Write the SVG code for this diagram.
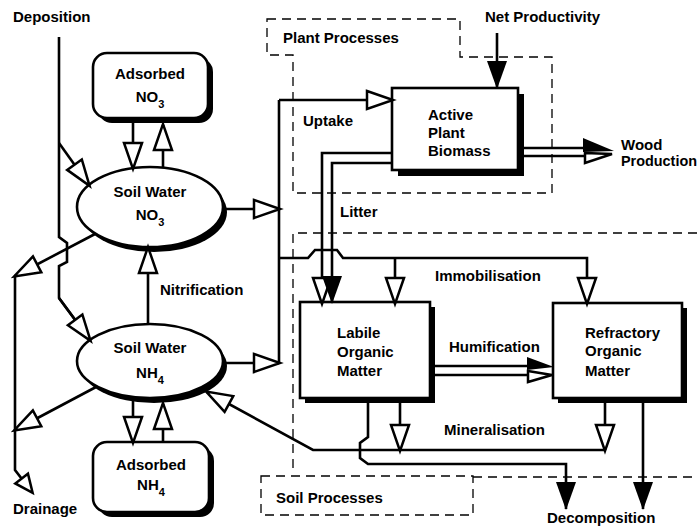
<svg xmlns="http://www.w3.org/2000/svg" width="699" height="526" viewBox="0 0 699 526">
<style>
text{font-family:"Liberation Sans",Arial,sans-serif;font-weight:bold;font-size:15px;fill:#000}
.c{text-anchor:middle}
.dash{fill:none;stroke:#000;stroke-width:1.3;stroke-dasharray:9 6}
.ln{fill:none;stroke:#000;stroke-width:2.6;stroke-linejoin:miter}
.node{fill:#fff;stroke:#000;stroke-width:2.6}
.sh{fill:#000}
.ao{marker-end:url(#ao)}
.af{marker-end:url(#af)}
.as{marker-end:url(#as)}
.sub{font-size:11px}
</style>
<defs>
<marker id="ao" markerUnits="userSpaceOnUse" viewBox="-4 -4 36 26" markerWidth="36" markerHeight="26" refX="25" refY="9" orient="auto" overflow="visible">
<path d="M0,0 L26,9 L0,18 Z" fill="#fff" stroke="#000" stroke-width="2.5"/>
</marker>
<marker id="as" markerUnits="userSpaceOnUse" viewBox="-4 -4 28 24" markerWidth="28" markerHeight="24" refX="17" refY="8" orient="auto" overflow="visible">
<path d="M0,0 L18,8 L0,16 Z" fill="#fff" stroke="#000" stroke-width="2.5"/>
</marker>
<marker id="af" markerUnits="userSpaceOnUse" viewBox="0 0 28 20" markerWidth="28" markerHeight="20" refX="27" refY="10" orient="auto" overflow="visible">
<path d="M0,0 L28,10 L0,20 Z" fill="#000"/>
</marker>
</defs>
<rect width="699" height="526" fill="#fff"/>

<g id="regions">
<path class="dash" d="M267,19 L460,19 L460,57 L552,57 L552,193 L293,193 L293,55 L267,55 Z"/>
<path class="dash" d="M697,233 L293,233 L293,468"/>
<rect class="dash" x="261" y="476" width="212" height="39"/>
<path class="dash" d="M473,477 L697,477"/>
</g>

<g id="labels">
<text x="13" y="22">Deposition</text>
<text x="485" y="22">Net Productivity</text>
<text x="283" y="43">Plant Processes</text>
<text x="303" y="126">Uptake</text>
<text x="621" y="150">Wood</text>
<text x="621" y="166" textLength="76" lengthAdjust="spacingAndGlyphs">Production</text>
<text x="340" y="217">Litter</text>
<text x="435" y="281">Immobilisation</text>
<text x="160" y="295">Nitrification</text>
<text x="449" y="352">Humification</text>
<text x="444" y="435">Mineralisation</text>
<text x="276" y="503">Soil Processes</text>
<text x="13" y="514">Drainage</text>
<text x="547" y="523">Decomposition</text>
</g>

<g id="adsorbed-no3">
<rect class="sh" x="98" y="58" width="115" height="65" rx="14"/>
<rect class="node" x="93" y="53" width="115" height="65" rx="14"/>
<text class="c" x="150" y="79">Adsorbed</text>
<text class="c" x="150" y="102">NO<tspan class="sub" dy="6">3</tspan></text>
</g>

<g id="soil-water-no3">
<ellipse class="sh" cx="154" cy="212" rx="73" ry="40"/>
<ellipse class="node" cx="150" cy="207" rx="73" ry="40"/>
<text class="c" x="150" y="197">Soil Water</text>
<text class="c" x="150" y="220">NO<tspan class="sub" dy="6">3</tspan></text>
</g>

<g id="soil-water-nh4">
<ellipse class="sh" cx="154" cy="366" rx="73" ry="37"/>
<ellipse class="node" cx="150" cy="361" rx="73" ry="37"/>
<text class="c" x="150" y="353">Soil Water</text>
<text class="c" x="150" y="378">NH<tspan class="sub" dy="6">4</tspan></text>
</g>

<g id="adsorbed-nh4">
<rect class="sh" x="98" y="447" width="116" height="70" rx="14"/>
<rect class="node" x="93" y="442" width="116" height="70" rx="14"/>
<text class="c" x="151" y="470">Adsorbed</text>
<text class="c" x="151" y="490">NH<tspan class="sub" dy="6">4</tspan></text>
</g>

<g id="active-plant-biomass">
<rect class="sh" x="398" y="94" width="126" height="82"/>
<rect class="node" x="392" y="88" width="126" height="82"/>
<text x="428" y="120">Active</text>
<text x="428" y="138">Plant</text>
<text x="428" y="156">Biomass</text>
</g>

<g id="labile-organic-matter">
<rect class="sh" x="305" y="307" width="130" height="96"/>
<rect class="node" x="300" y="302" width="130" height="96"/>
<text x="337" y="338">Labile</text>
<text x="337" y="357">Organic</text>
<text x="337" y="376">Matter</text>
</g>

<g id="refractory-organic-matter">
<rect class="sh" x="558" y="308" width="129" height="95"/>
<rect class="node" x="553" y="303" width="129" height="95"/>
<text x="585" y="338">Refractory</text>
<text x="585" y="356">Organic</text>
<text x="585" y="376">Matter</text>
</g>

<g id="connectors">
<!-- deposition -->
<path class="ln" d="M59,37 L59,237 L67,243 L67,262 L59,266 L59,298 L90,340"/>
<path class="ln ao" d="M59,143 L89,185"/>
<path class="ln ao" d="M59,298 L90,340"/>
<!-- drainage -->
<path class="ln ao" d="M95,234 L15,276"/>
<path class="ln ao" d="M96,387 L15,430"/>
<path class="ln as" d="M15,276 L15,470 L32,492"/>
<!-- adsorbed exchanges -->
<path class="ln ao" d="M133,118 L133,168"/>
<path class="ln ao" d="M163,168 L163,125"/>
<path class="ln ao" d="M133,400 L133,442"/>
<path class="ln ao" d="M163,442 L163,404"/>
<!-- nitrification -->
<path class="ln ao" d="M148,325 L148,248"/>
<!-- uptake -->
<path class="ln" d="M279,364 L279,100"/>
<path class="ln ao" d="M279,100 L392,100"/>
<path class="ln ao" d="M225,209 L279,209"/>
<path class="ln ao" d="M224,363 L279,363"/>
<!-- net productivity -->
<path class="ln af" d="M497,33 L497,88"/>
<!-- wood production -->
<path class="ln" d="M524,148 L585,148 M524,156 L585,156"/>
<polygon points="583,138 614,151 583,152" fill="#000"/>
<polygon points="585,153 612,154 585,163" fill="#fff" stroke="#000" stroke-width="2.5"/>
<!-- litter -->
<path class="ln ao" d="M392,153 L322,153 L322,303"/>
<path class="ln af" d="M392,163 L332,163 L332,303"/>
<!-- immobilisation -->
<path class="ln ao" d="M279,258 L308,258 L315,250 L337,250 L343,258 L587,258 L587,303"/>
<path class="ln ao" d="M395,258 L395,303"/>
<!-- humification -->
<path class="ln" d="M435,366 L530,366 M435,375 L530,375"/>
<polygon points="527,357 554,367 527,370" fill="#000"/>
<polygon points="528,371 552,375 528,382" fill="#fff" stroke="#000" stroke-width="2.5"/>
<!-- mineralisation -->
<path class="ln ao" d="M400,403 L400,450"/>
<path class="ln ao" d="M605,403 L605,450"/>
<path class="ln ao" d="M605,450 L313,450 L207,392"/>
<!-- decomposition -->
<path class="ln af" d="M368,403 L368,437 L360,443 L360,458 L368,464 L566,464 L566,509"/>
<path class="ln af" d="M643,403 L643,509"/>
</g>
</svg>
